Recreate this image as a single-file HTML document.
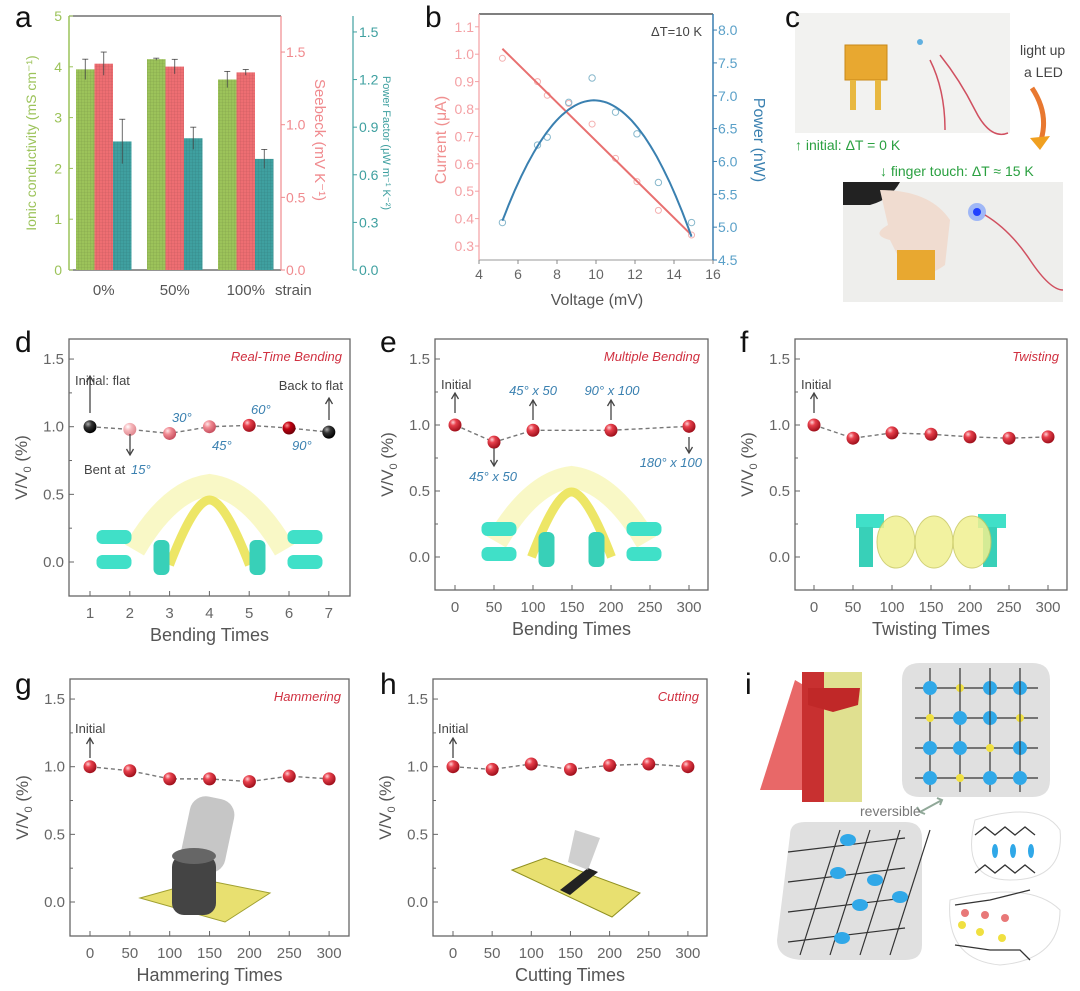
<!DOCTYPE html>
<html><head><meta charset="utf-8"><style>
html,body{margin:0;padding:0;background:#fff;}
svg{display:block;font-family:"Liberation Sans",sans-serif;}
</style></head><body>
<svg id="fig" width="1080" height="991" viewBox="0 0 1080 991" xmlns="http://www.w3.org/2000/svg">
<defs>
<radialGradient id="gRed" cx="35%" cy="30%" r="70%"><stop offset="0" stop-color="#ffd0d4"/><stop offset="0.35" stop-color="#e8404c"/><stop offset="1" stop-color="#a0101c"/></radialGradient>
<radialGradient id="gBlack" cx="35%" cy="30%" r="70%"><stop offset="0" stop-color="#aaa"/><stop offset="0.4" stop-color="#333"/><stop offset="1" stop-color="#000"/></radialGradient>
<radialGradient id="gPale" cx="35%" cy="30%" r="70%"><stop offset="0" stop-color="#fff"/><stop offset="0.4" stop-color="#f6b8bc"/><stop offset="1" stop-color="#e08890"/></radialGradient>
<radialGradient id="gLight" cx="35%" cy="30%" r="70%"><stop offset="0" stop-color="#ffe6e8"/><stop offset="0.4" stop-color="#f08a92"/><stop offset="1" stop-color="#c85060"/></radialGradient>
<radialGradient id="gDark" cx="35%" cy="30%" r="70%"><stop offset="0" stop-color="#ff9090"/><stop offset="0.4" stop-color="#c00010"/><stop offset="1" stop-color="#700008"/></radialGradient>
<pattern id="grid" width="3" height="3" patternUnits="userSpaceOnUse"><path d="M0 0H3M0 0V3" stroke="rgba(0,0,0,0.18)" stroke-width="0.6"/></pattern>
</defs>
<g id="root"></g>
</svg>
<script>
// ---------- data ----------
const a_groups = ["0%", "50%", "100%"];
const a_cond = [3.95, 4.15, 3.75];
const a_cond_err = [0.2, 0.02, 0.16];
const a_seebeck = [1.42, 1.40, 1.36];
const a_seebeck_err = [0.08, 0.05, 0.02];
const a_pf = [0.81, 0.83, 0.70];
const a_pf_err = [0.14, 0.07, 0.06];
const a_condTicks = [0, 1, 2, 3, 4, 5];
const a_seebeckTicks = ["0.0", "0.5", "1.0", "1.5"];
const a_pfTicks = ["0.0", "0.3", "0.6", "0.9", "1.2", "1.5"];

const b_voltage = [5.2, 7.0, 7.5, 8.6, 9.8, 11.0, 12.1, 13.2, 14.9];
const b_current = [0.985, 0.9, 0.85, 0.82, 0.745, 0.62, 0.535, 0.43, 0.34];
const b_power = [5.07, 6.25, 6.37, 6.9, 7.27, 6.75, 6.42, 5.68, 5.07];
const b_currentFit = [1.3845, -0.0701];       // intercept, slope
const b_powerFit = [6.93, 9.9, 0.083];         // peak, peak voltage, curvature
const b_fitRange = [5.2, 14.9];
const b_xTicks = [4, 6, 8, 10, 12, 14, 16];
const b_currentTicks = ["0.3", "0.4", "0.5", "0.6", "0.7", "0.8", "0.9", "1.0", "1.1"];
const b_powerTicks = ["4.5", "5.0", "5.5", "6.0", "6.5", "7.0", "7.5", "8.0"];

const d_x = [1, 2, 3, 4, 5, 6, 7];
const d_y = [1.0, 0.98, 0.95, 1.0, 1.01, 0.99, 0.96];
const d_xTicks = [1, 2, 3, 4, 5, 6, 7];
const e_x = [0, 50, 100, 200, 300];
const e_y = [1.0, 0.87, 0.96, 0.96, 0.99];
const f_x = [0, 50, 100, 150, 200, 250, 300];
const f_y = [1.0, 0.9, 0.94, 0.93, 0.91, 0.9, 0.91];
const g_x = [0, 50, 100, 150, 200, 250, 300];
const g_y = [1.0, 0.97, 0.91, 0.91, 0.89, 0.93, 0.91];
const h_x = [0, 50, 100, 150, 200, 250, 300];
const h_y = [1.0, 0.98, 1.02, 0.98, 1.01, 1.02, 1.0];
const cnt_xTicks = [0, 50, 100, 150, 200, 250, 300];
const v_yTicks = ["0.0", "0.5", "1.0", "1.5"];

// ---------- helpers ----------
const NS = "http://www.w3.org/2000/svg";
const root = document.getElementById("root");
function mk(tag, attrs, parent, txt) {
  const e = document.createElementNS(NS, tag);
  for (const k in attrs) e.setAttribute(k, attrs[k]);
  if (txt !== undefined) e.textContent = txt;
  (parent || root).appendChild(e);
  return e;
}
function grp(name, parent) {
  const g = mk("g", {}, parent);
  
  
  return g;
}
function txt(parent, x, y, s, o) {
  o = o || {};
  const t = mk("text", {x: x, y: y, "font-size": o.fs || 14, fill: o.fill || "#666",
    "text-anchor": o.anchor || "start", "font-style": o.italic ? "italic" : "normal"}, parent, s);
  if (o.rot) t.setAttribute("transform", "rotate(" + o.rot + " " + x + " " + y + ")");
  
  
  return t;
}
function line(parent, x1, y1, x2, y2, stroke, w, dash) {
  const l = mk("line", {x1: x1, y1: y1, x2: x2, y2: y2, stroke: stroke, "stroke-width": w || 1}, parent);
  if (dash) l.setAttribute("stroke-dasharray", dash);
  return l;
}
function arrow(parent, x, y1, y2) {
  line(parent, x, y1, x, y2, "#444", 1.3);
  const d = y2 < y1 ? -1 : 1;
  mk("path", {d: `M${x-3.5} ${y2 - d*6} L${x} ${y2} L${x+3.5} ${y2 - d*6}`, fill: "none", stroke: "#444", "stroke-width": 1.3}, parent);
}
function panelLetter(x, y, s) {
  txt(root, x, y, s, {fs: 30, fill: "#111", name: "panel-label-" + s});
}

// ---------- panel a ----------
(function () {
  const g = grp("panel-a-bar-chart");
  const X0 = 69, X1 = 281, Y0 = 270, Ytop = 16;
  const yC = v => Y0 - v * 50.8, yS = v => Y0 - v * 145.3, yP = v => Y0 - v * 158.7;
  const groupX = [76, 147, 218], bw = 18.5;
  line(g, X0, Ytop, X1, Ytop, "#555", 1.2);
  line(g, X0, Y0, X1, Y0, "#555", 1.2);
  line(g, X0, Ytop, X0, Y0, "#9cc35a", 1.5);
  line(g, X1, Ytop, X1, Y0, "#f08a8e", 1.2);
  line(g, 353, 16, 353, Y0, "#3fa0a0", 1.2);
  a_condTicks.forEach(v => { line(g, X0, yC(v), X0 + 4, yC(v), "#9cc35a"); txt(g, 62, yC(v) + 5, String(v), {fill: "#9cc35a", anchor: "end", name: "y-tick-conductivity"}); });
  a_seebeckTicks.forEach(s => { const v = +s; line(g, X1, yS(v), X1 + 4, yS(v), "#f08a8e"); txt(g, 286, yS(v) + 5, s, {fill: "#f08a8e", name: "y-tick-seebeck"}); });
  a_pfTicks.forEach(s => { const v = +s; line(g, 353, yP(v), 357, yP(v), "#3fa0a0"); txt(g, 359, yP(v) + 5, s, {fill: "#3fa0a0", name: "y-tick-power-factor"}); });
  a_groups.forEach((name, i) => {
    const specs = [[a_cond[i], a_cond_err[i], yC, "#9cc35a"], [a_seebeck[i], a_seebeck_err[i], yS, "#ee6e72"], [a_pf[i], a_pf_err[i], yP, "#3fa0a0"]];
    specs.forEach((s, j) => {
      const x = groupX[i] + j * bw, top = s[2](s[0]);
      const r = mk("rect", {x: x, y: top, width: bw, height: Y0 - top, fill: s[3]}, g);
      
      
      mk("rect", {x: x, y: top, width: bw, height: Y0 - top, fill: "url(#grid)"}, g);
      const e1 = s[2](s[0] + s[1]), e2 = s[2](s[0] - s[1]);
      line(g, x + bw / 2, e1, x + bw / 2, e2, "#444", 0.8);
      line(g, x + bw / 2 - 3, e1, x + bw / 2 + 3, e1, "#444", 0.8);
    });
    txt(g, groupX[i] + 1.5 * bw, 295, name, {fs: 15, fill: "#555", anchor: "middle", name: "x-tick-strain"});
  });
  txt(g, 275, 295, "strain", {fs: 15, fill: "#555", name: "x-axis-title"});
  txt(g, 36, 143, "Ionic conductivity (mS cm⁻¹)", {fs: 14, fill: "#9cc35a", anchor: "middle", rot: -90, name: "y-axis-title-conductivity"});
  txt(g, 315, 140, "Seebeck (mV K⁻¹)", {fs: 15, fill: "#f08a8e", anchor: "middle", rot: 90, name: "y-axis-title-seebeck"});
  txt(g, 383, 143, "Power Factor (μW m⁻¹ K⁻²)", {fs: 11, fill: "#3fa0a0", anchor: "middle", rot: 90, name: "y-axis-title-power-factor"});
})();
panelLetter(15, 27, "a");

// ---------- panel b ----------
(function () {
  const g = grp("panel-b-iv-chart");
  const X0 = 479, X1 = 713, Y0 = 260, Ytop = 14;
  const xs = v => X0 + (v - 4) * 19.5, yI = v => 246 - (v - 0.3) * 274, yPw = v => 260 - (v - 4.5) * 65.7;
  line(g, X0, Ytop, X1, Ytop, "#555", 1.5);
  line(g, X0, Y0, X1, Y0, "#999", 1);
  line(g, X0, Ytop, X0, Y0, "#f4a0a4", 1.2);
  line(g, X1, Ytop, X1, Y0, "#3a7fb0", 1.5);
  b_xTicks.forEach(v => { line(g, xs(v), Y0, xs(v), Y0 + 4, "#888"); txt(g, xs(v), 279, String(v), {fs: 14, anchor: "middle", name: "x-tick"}); });
  b_currentTicks.forEach(s => { line(g, X0, yI(+s), X0 - 4, yI(+s), "#f4a0a4"); txt(g, 474, yI(+s) + 5, s, {fill: "#f4a0a4", anchor: "end", name: "y-tick-current"}); });
  b_powerTicks.forEach(s => { line(g, X1, yPw(+s), X1 + 4, yPw(+s), "#3a7fb0"); txt(g, 718, yPw(+s) + 5, s, {fill: "#5aa0c8", name: "y-tick-power"}); });
  b_voltage.forEach((v, i) => {
    const c = mk("circle", {cx: xs(v), cy: yI(b_current[i]), r: 3, fill: "none", stroke: "#f4b0b0", "stroke-width": 1}, g);
    
    
    const p = mk("circle", {cx: xs(v), cy: yPw(b_power[i]), r: 3.2, fill: "none", stroke: "#88b8cc", "stroke-width": 1}, g);
    
    
  });
  const cl = line(g, xs(b_fitRange[0]), yI(b_currentFit[0] + b_currentFit[1] * b_fitRange[0]), xs(b_fitRange[1]), yI(b_currentFit[0] + b_currentFit[1] * b_fitRange[1]), "#e87070", 2);
  
  
  let d = "";
  for (let k = 0; k <= 60; k++) {
    const v = b_fitRange[0] + (b_fitRange[1] - b_fitRange[0]) * k / 60;
    const p = b_powerFit[0] - b_powerFit[2] * (v - b_powerFit[1]) ** 2;
    d += (k ? "L" : "M") + xs(v).toFixed(1) + " " + yPw(p).toFixed(1);
  }
  const pl = mk("path", {d: d, fill: "none", stroke: "#3a80b0", "stroke-width": 2}, g);
  
  
  txt(g, 702, 36, "ΔT=10 K", {fs: 13, fill: "#444", anchor: "end", name: "delta-t-note"});
  txt(g, 597, 305, "Voltage (mV)", {fs: 16, fill: "#555", anchor: "middle", name: "x-axis-title"});
  txt(g, 446, 140, "Current (μA)", {fs: 16, fill: "#f09090", anchor: "middle", rot: -90, name: "y-axis-title-current"});
  txt(g, 754, 140, "Power (nW)", {fs: 16, fill: "#3a80b0", anchor: "middle", rot: 90, name: "y-axis-title-power"});
})();
panelLetter(425, 27, "b");

// ---------- panel c (photos) ----------
(function () {
  const g = grp("panel-c-photos");
  mk("rect", {x: 795, y: 13, width: 215, height: 120, fill: "#f2f2f0"}, g);
  mk("rect", {x: 845, y: 45, width: 42, height: 35, fill: "#e8a830", stroke: "#c88818"}, g);
  mk("rect", {x: 850, y: 80, width: 6, height: 30, fill: "#e8b840"}, g);
  mk("rect", {x: 875, y: 80, width: 6, height: 30, fill: "#e8b840"}, g);
  mk("path", {d: "M940 55 Q960 80 975 110 T1008 133", stroke: "#d05060", fill: "none", "stroke-width": 1.5}, g);
  mk("path", {d: "M930 60 Q945 90 945 130", stroke: "#d05060", fill: "none", "stroke-width": 1.5}, g);
  mk("circle", {cx: 920, cy: 42, r: 3, fill: "#60b0e0"}, g);
  mk("rect", {x: 843, y: 182, width: 220, height: 120, fill: "#eeeeec"}, g);
  mk("path", {d: "M843 182 H900 Q890 200 870 205 H843Z", fill: "#222"}, g);
  mk("path", {d: "M880 190 Q930 190 950 220 L945 265 Q925 280 905 270 L890 240 Q870 235 888 225Z", fill: "#f0dcd0"}, g);
  mk("rect", {x: 897, y: 250, width: 38, height: 30, fill: "#e8a830"}, g);
  mk("circle", {cx: 977, cy: 212, r: 9, fill: "#5080ff", opacity: 0.5}, g);
  mk("circle", {cx: 977, cy: 212, r: 4, fill: "#2040ff"}, g);
  mk("path", {d: "M985 215 Q1010 230 1030 260 T1063 290", stroke: "#d05060", fill: "none", "stroke-width": 1.5}, g);
  mk("path", {d: "M1032 88 Q1050 115 1040 143", stroke: "#e87830", fill: "none", "stroke-width": 5}, g);
  mk("path", {d: "M1030 138 L1040 150 L1050 136Z", fill: "#f0a020"}, g);
  txt(g, 1020, 55, "light up", {fs: 14, fill: "#444", name: "light-up-text"});
  txt(g, 1024, 77, "a LED", {fs: 14, fill: "#444", name: "a-led-text"});
  txt(g, 795, 150, "↑  initial: ΔT = 0 K", {fs: 14, fill: "#2aa040", name: "initial-caption"});
  txt(g, 880, 176, "↓  finger touch: ΔT ≈ 15 K", {fs: 14, fill: "#2aa040", name: "finger-touch-caption"});
})();
panelLetter(785, 27, "c");

// ---------- V/V0 panels ----------
function vPanel(cfg) {
  const g = grp("panel-" + cfg.id + "-chart");
  const [X0, X1, Ytop, Y0] = cfg.box;
  const xs = v => cfg.xa + (v - cfg.xv0) * cfg.xk, ys = v => cfg.y0 - v * cfg.yk;
  mk("rect", {x: X0, y: Ytop, width: X1 - X0, height: Y0 - Ytop, fill: "none", stroke: "#666", "stroke-width": 1.3}, g);
  v_yTicks.forEach(s => {
    line(g, X0, ys(+s), X0 + 5, ys(+s), "#666");
    const ym = ys(+s + 0.25);
    if (ym > Ytop + 2) line(g, X0, ym, X0 + 3, ym, "#666");
    txt(g, X0 - 5, ys(+s) + 5, s, {fs: 15, anchor: "end", name: "y-tick"});
  });
  cfg.ticks.forEach(v => {
    line(g, xs(v), Y0, xs(v), Y0 - 5, "#666");
    txt(g, xs(v), Y0 + 22, String(v), {fs: 15, anchor: "middle", name: "x-tick"});
  });
  txt(g, (X0 + X1) / 2, Y0 + 45, cfg.xtitle, {fs: 18, fill: "#555", anchor: "middle", name: "x-axis-title"});
  txt(g, X0 - 42, (Ytop + Y0) / 2, "V/V", {fs: 17, fill: "#555", anchor: "middle", rot: -90, name: "y-axis-title"}).innerHTML = 'V/V<tspan font-size="11" dy="4">0</tspan><tspan dy="-4"> (%)</tspan>';
  txt(g, X1 - 8, Ytop + 22, cfg.title, {fs: 13, fill: "#d03040", anchor: "end", italic: true, name: "panel-title"});
  if (cfg.inset) cfg.inset(g, (X0 + X1) / 2, ys(0));
  let d = "";
  cfg.xv.forEach((v, i) => { d += (i ? "L" : "M") + xs(v) + " " + ys(cfg.yv[i]); });
  const pl = mk("path", {d: d, fill: "none", stroke: "#777", "stroke-width": 1.4, "stroke-dasharray": "4 3"}, g);
  
  
  cfg.xv.forEach((v, i) => {
    const c = mk("circle", {cx: xs(v), cy: ys(cfg.yv[i]), r: 6.5, fill: cfg.fills ? cfg.fills[i] : "url(#gRed)"}, g);
    
    
  });
  if (cfg.notes) cfg.notes(g, xs, ys);
}
function fingersInset(g, cx, y0, sep) {
  mk("path", {d: `M${cx-75} ${y0-20} Q${cx-40} ${y0-80} ${cx} ${y0-85} Q${cx+40} ${y0-80} ${cx+75} ${y0-20}`, fill: "none", stroke: "#f2f080", "stroke-width": 22, opacity: 0.45}, g);
  mk("path", {d: `M${cx-40} ${y0-5} Q${cx-15} ${y0-70} ${cx} ${y0-70} Q${cx+15} ${y0-70} ${cx+40} ${y0-5}`, fill: "none", stroke: "#e8e040", "stroke-width": 9, opacity: 0.8}, g);
  [-1, 1].forEach(s => {
    mk("rect", {x: cx + s * sep - (s < 0 ? 35 : 0), y: y0 - 40, width: 35, height: 14, rx: 6, fill: "#40e0c8"}, g);
    mk("rect", {x: cx + s * sep - (s < 0 ? 35 : 0), y: y0 - 15, width: 35, height: 14, rx: 6, fill: "#40e0c8"}, g);
    mk("rect", {x: cx + s * (sep - 30) - 8, y: y0 - 30, width: 16, height: 35, rx: 6, fill: "#38d0b8"}, g);
  });
}
vPanel({id: "d", box: [69, 350, 339, 596], xa: 90, xv0: 1, xk: 39.8, y0: 562, yk: 135.3, ticks: d_xTicks,
  xv: d_x, yv: d_y, xtitle: "Bending Times", title: "Real-Time Bending",
  fills: ["url(#gBlack)", "url(#gPale)", "url(#gLight)", "url(#gLight)", "url(#gRed)", "url(#gDark)", "url(#gBlack)"],
  inset: (g, cx, y0) => fingersInset(g, cx, y0 + 8, 78),
  notes: (g, xs, ys) => {
    txt(g, 75, 385, "Initial: flat", {fs: 13, fill: "#444", name: "annotation"}); arrow(g, 90, 413, 376);
    txt(g, 343, 390, "Back to flat", {fs: 13, fill: "#444", anchor: "end", name: "annotation"}); arrow(g, 329, 420, 398);
    txt(g, 84, 474, "Bent at ", {fs: 13, fill: "#444", name: "annotation"}); txt(g, 131, 474, "15°", {fs: 13, fill: "#3a80b0", italic: true, name: "annotation"}); arrow(g, 130, 434, 455);
    txt(g, 172, 422, "30°", {fs: 13, fill: "#3a80b0", italic: true, name: "annotation"});
    txt(g, 212, 450, "45°", {fs: 13, fill: "#3a80b0", italic: true, name: "annotation"});
    txt(g, 251, 414, "60°", {fs: 13, fill: "#3a80b0", italic: true, name: "annotation"});
    txt(g, 292, 450, "90°", {fs: 13, fill: "#3a80b0", italic: true, name: "annotation"});
  }});
panelLetter(15, 352, "d");
vPanel({id: "e", box: [435, 708, 339, 590], xa: 455, xv0: 0, xk: 0.78, y0: 557, yk: 132, ticks: cnt_xTicks,
  xv: e_x, yv: e_y, xtitle: "Bending Times", title: "Multiple Bending",
  inset: (g, cx, y0) => fingersInset(g, cx, y0 + 5, 55),
  notes: (g) => {
    txt(g, 441, 389, "Initial", {fs: 13, fill: "#444", name: "annotation"}); arrow(g, 455, 413, 393);
    txt(g, 533, 395, "45° x 50", {fs: 13, fill: "#3a80b0", italic: true, anchor: "middle", name: "annotation"}); arrow(g, 533, 420, 400);
    txt(g, 612, 395, "90° x 100", {fs: 13, fill: "#3a80b0", italic: true, anchor: "middle", name: "annotation"}); arrow(g, 611, 420, 400);
    txt(g, 493, 481, "45° x 50", {fs: 13, fill: "#3a80b0", italic: true, anchor: "middle", name: "annotation"}); arrow(g, 494, 448, 466);
    txt(g, 702, 467, "180° x 100", {fs: 13, fill: "#3a80b0", italic: true, anchor: "end", name: "annotation"}); arrow(g, 689, 437, 453);
  }});
panelLetter(380, 352, "e");
vPanel({id: "f", box: [795, 1067, 339, 590], xa: 814, xv0: 0, xk: 0.78, y0: 557, yk: 132, ticks: cnt_xTicks,
  xv: f_x, yv: f_y, xtitle: "Twisting Times", title: "Twisting",
  inset: (g, cx, y0) => {
    mk("rect", {x: cx - 75, y: y0 - 43, width: 28, height: 14, fill: "#40e0c8"}, g);
    mk("rect", {x: cx - 72, y: y0 - 30, width: 14, height: 40, fill: "#38d0b8"}, g);
    mk("rect", {x: cx + 47, y: y0 - 43, width: 28, height: 14, fill: "#40e0c8"}, g);
    mk("rect", {x: cx + 52, y: y0 - 30, width: 14, height: 40, fill: "#38d0b8"}, g);
    [-40, -2, 36].forEach(o => mk("ellipse", {cx: cx + o + 5, cy: y0 - 15, rx: 19, ry: 26, fill: "#f0f090", stroke: "#c8c860", opacity: 0.85}, g));
  },
  notes: (g) => { txt(g, 801, 389, "Initial", {fs: 13, fill: "#444", name: "annotation"}); arrow(g, 814, 413, 393); }});
panelLetter(740, 352, "f");
vPanel({id: "g", box: [70, 349, 679, 936], xa: 90, xv0: 0, xk: 0.797, y0: 902, yk: 135.3, ticks: cnt_xTicks,
  xv: g_x, yv: g_y, xtitle: "Hammering Times", title: "Hammering",
  inset: (g) => {
    mk("path", {d: "M140 898 L205 880 L270 893 L225 922Z", fill: "#e8e070", stroke: "#a0a030"}, g);
    mk("rect", {x: 185, y: 797, width: 45, height: 75, rx: 16, fill: "#a0a0a0", opacity: 0.6, transform: "rotate(12 207 835)"}, g);
    mk("rect", {x: 172, y: 855, width: 44, height: 60, rx: 12, fill: "#444"}, g);
    mk("ellipse", {cx: 194, cy: 856, rx: 22, ry: 8, fill: "#666"}, g);
  },
  notes: (g) => { txt(g, 75, 733, "Initial", {fs: 13, fill: "#444", name: "annotation"}); arrow(g, 90, 758, 738); }});
panelLetter(15, 694, "g");
vPanel({id: "h", box: [433, 707, 679, 936], xa: 453, xv0: 0, xk: 0.783, y0: 902, yk: 135.3, ticks: cnt_xTicks,
  xv: h_x, yv: h_y, xtitle: "Cutting Times", title: "Cutting",
  inset: (g) => {
    mk("path", {d: "M512 870 L545 858 L640 893 L612 917Z", fill: "#e8e070", stroke: "#909020"}, g);
    mk("path", {d: "M560 890 L588 868 L598 872 L570 895Z", fill: "#222"}, g);
    mk("path", {d: "M575 830 L600 838 L588 870 L568 862Z", fill: "#bbb", opacity: 0.7}, g);
  },
  notes: (g) => { txt(g, 438, 733, "Initial", {fs: 13, fill: "#444", name: "annotation"}); arrow(g, 453, 758, 738); }});
panelLetter(380, 694, "h");

// ---------- panel i (illustration) ----------
(function () {
  const g = grp("panel-i-illustration");
  mk("path", {d: "M795 680 L760 790 L810 790 L812 690Z", fill: "#e86868"}, g);
  mk("rect", {x: 802, y: 672, width: 60, height: 130, fill: "#e0e090"}, g);
  mk("rect", {x: 802, y: 672, width: 22, height: 130, fill: "#c83030"}, g);
  mk("path", {d: "M808 688 L860 688 L858 705 L833 712 L808 705Z", fill: "#c02828"}, g);
  mk("path", {d: "M902 680 Q902 663 920 663 H1032 Q1050 663 1050 680 V780 Q1050 797 1032 797 H920 Q902 797 902 780Z", fill: "#e0e0e0"}, g);
  for (let k = 0; k < 4; k++) {
    line(g, 915, 688 + k * 30, 1038, 688 + k * 30, "#333", 1.2);
    line(g, 930 + k * 30, 668, 930 + k * 30, 792, "#333", 1.2);
    for (let j = 0; j < 4; j++) mk("circle", {cx: 930 + j * 30, cy: 688 + k * 30, r: (j + k) % 3 === 1 ? 4 : 7, fill: (j + k) % 3 === 1 ? "#f0e040" : "#30a8e8"}, g);
  }
  mk("path", {d: "M790 835 Q790 822 805 822 H905 Q922 822 922 838 V945 Q922 960 905 960 H805 Q777 960 777 940Z", fill: "#e0e0e0"}, g);
  for (let k = 0; k < 4; k++) {
    line(g, 788, 852 + k * 30, 905, 838 + k * 30, "#333", 1.2);
    line(g, 800 + k * 30, 955, 840 + k * 30, 830, "#333", 1.2);
  }
  [[848, 840], [838, 873], [875, 880], [860, 905], [900, 897], [842, 938]].forEach(p => mk("ellipse", {cx: p[0], cy: p[1], rx: 8, ry: 6, fill: "#30a8e8"}, g));
  mk("path", {d: "M975 820 Q1040 800 1060 830 Q1065 880 1010 880 Q960 880 975 820Z", fill: "#fff", stroke: "#ddd"}, g);
  mk("path", {d: "M950 900 Q1030 880 1060 910 Q1060 960 1000 965 Q945 960 950 900Z", fill: "#fff", stroke: "#ddd"}, g);
  mk("path", {d: "M975 835 l10 -8 l10 8 l10 -8 l10 8 l10 -8 l10 8 M975 873 l10 -8 l10 8 l10 -8 l10 8 l10 -8 l10 8", stroke: "#333", fill: "none", "stroke-width": 1.3}, g);
  [995, 1013, 1031].forEach(x => mk("ellipse", {cx: x, cy: 851, rx: 3, ry: 7, fill: "#30a8e8"}, g));
  mk("path", {d: "M955 905 L990 900 L1010 895 L1030 890 M955 945 L990 950 L1020 950 L1030 960", stroke: "#333", fill: "none", "stroke-width": 1.3}, g);
  [[962, 925, "#f0e040"], [980, 932, "#f0e040"], [1002, 938, "#f0e040"], [965, 913, "#e87878"], [985, 915, "#e87878"], [1005, 918, "#e87878"]].forEach(p => mk("circle", {cx: p[0], cy: p[1], r: 4, fill: p[2]}, g));
  mk("path", {d: "M920 812 L942 800 M937 798 L942 800 L940 805 M920 812 L917 807 M920 812 L925 814", stroke: "#90a898", "stroke-width": 2, fill: "none"}, g);
  txt(g, 860, 816, "reversible", {fs: 14, fill: "#777", name: "reversible-label"});
})();
panelLetter(745, 694, "i");
</script>
</body></html>
